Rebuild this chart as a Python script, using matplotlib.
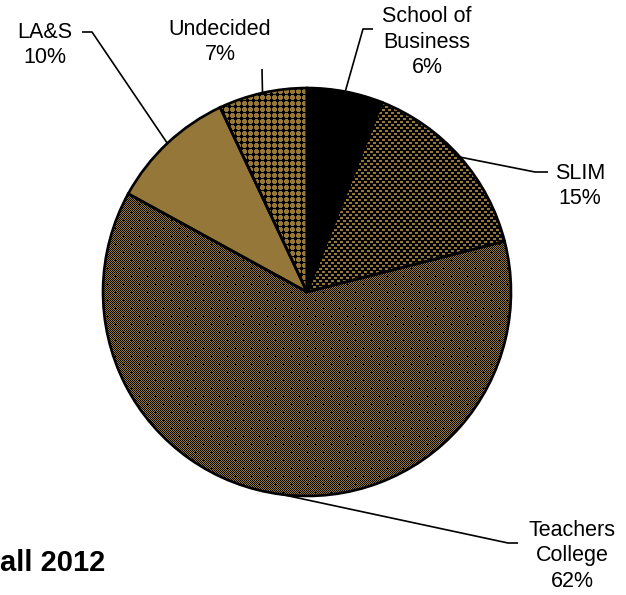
import numpy as np
import matplotlib
matplotlib.use('Agg')
import matplotlib.pyplot as plt
from matplotlib.patches import Wedge

# ---- data ----
categories = ['School of\nBusiness', 'SLIM', 'Teachers\nCollege', 'LA&S', 'Undecided']
values = [6, 15, 62, 10, 7]
title_text = 'all 2012'

# ---- style / layout ----
W, H = 626, 595
GOLD_HEX = '#95773a'
GOLD = np.array([149, 119, 58]) / 255.0
BLACK = np.zeros(3)
cx, cy = 307, H - 292
R = 204

face = {'School of\nBusiness': 'black', 'SLIM': 'black', 'Teachers\nCollege': '#4b3c1d',
        'LA&S': GOLD_HEX, 'Undecided': '#6a552a'}

# label centres and leader elbow/end (pixel coords from top-left)
label_pos = {'School of\nBusiness': (427, 42), 'SLIM': (580, 186),
             'Teachers\nCollege': (572, 556), 'LA&S': (45, 45), 'Undecided': (220, 42)}
leader_pts = {'School of\nBusiness': [(363, 29), (373, 29)],
              'SLIM': [(535, 172), (548, 172)],
              'Teachers\nCollege': [(508, 543), (518, 543)],
              'LA&S': [(92, 32), (82, 32)],
              'Undecided': [(262, 69)]}

# ---- textures ----
N = 2 * R
yy, xx = np.mgrid[0:N, 0:N]

def to_img(mask):
    return np.where(mask[..., None], GOLD, BLACK)

slim_mask = (((xx // 3) + (yy // 3)) % 2 == 0) & (yy % 3 != 2)

base = (xx + yy) % 2 == 0
k = yy // 8
v8 = yy % 8
x0 = (xx + (k % 2) * 8) % 16
dot = ((v8 == 4) & (np.abs(x0 - 4) <= 1)) | ((np.abs(v8 - 4) == 1) & (x0 == 4))
teach_mask = base & ~dot

u = xx % 6
v = yy % 6
und_black = (u == 0) | (v == 0) | (np.isin(u, [1, 5]) & np.isin(v, [1, 5]))
und_mask = ~und_black

textures = {'SLIM': to_img(slim_mask), 'Teachers\nCollege': to_img(teach_mask),
            'Undecided': to_img(und_mask)}

# ---- plot ----
fig = plt.figure(figsize=(W / 100, H / 100), dpi=100)
ax = fig.add_axes([0, 0, 1, 1])

wedges, _ = ax.pie(values, startangle=90, counterclock=False, radius=R, center=(cx, cy),
                   colors=[face[c] for c in categories], wedgeprops=dict(linewidth=0))

for w, cat, val in zip(wedges, categories, values):
    if cat in textures:
        im = ax.imshow(textures[cat], extent=(cx - R, cx + R, cy - R, cy + R),
                       interpolation='nearest', zorder=2)
        im.set_clip_path(w)
    ax.add_patch(Wedge((cx, cy), R, w.theta1, w.theta2, fill=False,
                       edgecolor='black', linewidth=1.9, zorder=3))
    mid = np.deg2rad((w.theta1 + w.theta2) / 2)
    sx, sy = cx + R * np.cos(mid), cy + R * np.sin(mid)
    xs = [sx] + [p[0] for p in leader_pts[cat]]
    ys = [sy] + [H - p[1] for p in leader_pts[cat]]
    ax.plot(xs, ys, color='black', linewidth=1.2, zorder=4, solid_capstyle='butt')
    lx, ly = label_pos[cat]
    ax.text(lx, H - ly, f'{cat}\n{val}%', ha='center', va='center', fontsize=15.5,
            family='Liberation Sans', linespacing=1.3, color='black')

ax.text(0, H - 563, title_text, ha='left', va='center', fontsize=21, fontweight='bold',
        family='Liberation Sans', color='black')

ax.set_xlim(0, W)
ax.set_ylim(0, H)
ax.set_aspect('auto')
ax.axis('off')

fig.savefig('out.png', dpi=100)
